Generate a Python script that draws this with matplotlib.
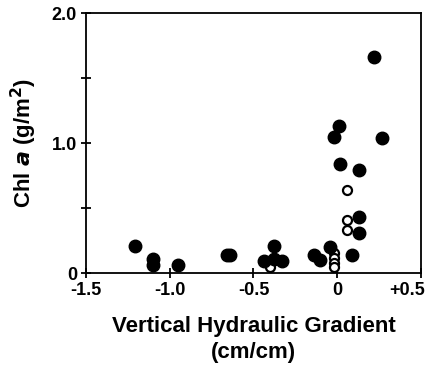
import numpy as np
import matplotlib
matplotlib.use('Agg')
import matplotlib.pyplot as plt
import matplotlib.transforms as mtransforms
from matplotlib.ticker import MultipleLocator

# 数据：实心点与空心点
filled_x = [-1.21, -1.10, -1.10, -0.95, -0.66, -0.64, -0.44, -0.38, -0.38, -0.33,
            -0.14, -0.10, -0.04, -0.02, 0.01, 0.02, 0.13, 0.22, 0.27, 0.13, 0.13, 0.09]
filled_y = [0.21, 0.11, 0.065, 0.06, 0.14, 0.135, 0.09, 0.21, 0.11, 0.09,
            0.14, 0.10, 0.20, 1.05, 1.13, 0.84, 0.79, 1.66, 1.04, 0.43, 0.31, 0.14]
open_x = [0.06, 0.06, 0.06, -0.02, -0.02, -0.02, -0.02, -0.40]
open_y = [0.64, 0.41, 0.335, 0.155, 0.115, 0.08, 0.05, 0.05]

xticks = [-1.5, -1.0, -0.5, 0, 0.5]
xticklabels = ['-1.5', '-1.0', '-0.5', '0', '+0.5']
yticks = [0, 1.0, 2.0]
yticklabels = ['0', '1.0', '2.0']

plt.rcParams['font.family'] = ['Liberation Sans', 'DejaVu Sans']
plt.rcParams['font.weight'] = 'bold'

fig = plt.figure(figsize=(4.37, 3.66), dpi=100)
ax = fig.add_axes([0.197, 0.254, 0.766, 0.710])

ax.plot(open_x, open_y, 'o', ms=6.5, mfc='white', mec='black', mew=1.6, zorder=2)
ax.plot(filled_x, filled_y, 'o', ms=9, color='black', zorder=3)

ax.set_xlim(-1.5, 0.5)
ax.set_ylim(0, 2.0)
ax.set_xticks(xticks)
ax.set_xticklabels(xticklabels)
ax.set_yticks(yticks)
ax.set_yticklabels(yticklabels)
ax.yaxis.set_minor_locator(MultipleLocator(0.5))

for s in ax.spines.values():
    s.set_linewidth(1.3)
ax.tick_params(which='both', direction='inout', length=7, width=1.3,
               labelsize=13, pad=3)

# 最右侧标签往左挪一点，避免被裁掉
last = ax.get_xticklabels()[-1]
last.set_transform(last.get_transform() +
                   mtransforms.ScaledTranslation(-10 / 72, 0, fig.dpi_scale_trans))

ax.set_ylabel('Chl $\\mathbf{\\mathit{a}}$ (g/m$^\\mathbf{2}$)', fontsize=16,
              fontweight='bold', labelpad=9)
ax.set_xlabel('Vertical Hydraulic Gradient\n(cm/cm)', fontsize=16,
              fontweight='bold', labelpad=12, linespacing=1.35)

plt.savefig('out.png', dpi=100)
